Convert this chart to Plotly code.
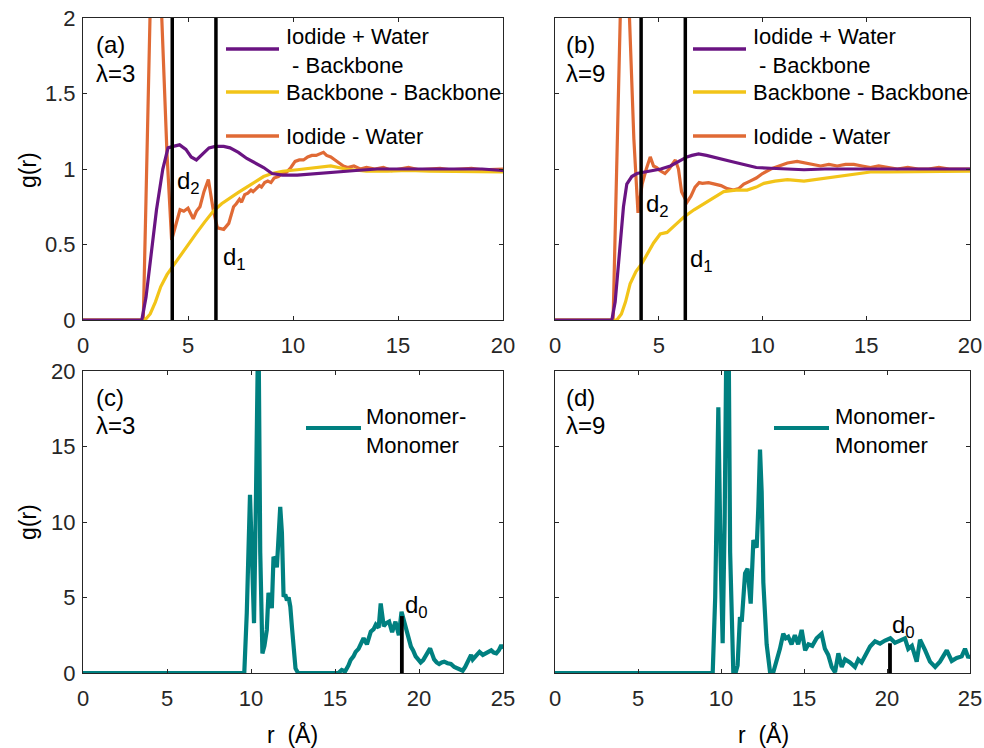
import plotly.graph_objects as go

# ---------------- data ----------------
# Panel (a)  lambda = 3
a_ib_r = [0, 2.8, 3.0, 3.2, 3.5, 3.8, 4.05, 4.3, 4.6, 4.9, 5.15, 5.4, 5.7, 6.0, 6.3, 6.7, 7.0, 7.4, 7.8, 8.2,
          8.6, 9.0, 9.5, 10.2, 11.0, 12.0, 13.0, 14.0, 15.0, 16.0, 17.0, 18.0, 19.0, 20.0]
a_ib_g = [0, 0, 0.15, 0.4, 0.73, 1.0, 1.14, 1.15, 1.16, 1.13, 1.08, 1.06, 1.1, 1.14, 1.15, 1.15, 1.14, 1.11, 1.07, 1.04,
          1.01, 0.97, 0.96, 0.96, 0.97, 0.98, 0.99, 1.0, 1.0, 1.0, 1.0, 1.0, 1.0, 0.99]

a_bb_r = [0, 2.95, 3.2, 3.45, 3.7, 4.0, 4.3, 4.6, 5.0, 5.4, 5.8, 6.2, 6.6, 7.0, 7.4, 7.8, 8.2, 8.6, 9.0, 9.5,
          10.2, 11.0, 11.8, 12.5, 13.5, 14.5, 15.5, 16.5, 17.5, 18.5, 19.5, 20]
a_bb_g = [0, 0, 0.04, 0.12, 0.22, 0.3, 0.36, 0.42, 0.5, 0.575, 0.65, 0.72, 0.77, 0.81, 0.845, 0.88, 0.915, 0.95, 0.97, 0.985,
          0.995, 1.01, 1.02, 1.0, 0.985, 0.985, 0.99, 0.985, 0.985, 0.98, 0.985, 0.98]

a_iw_r = [0, 2.87, 3.0, 3.19, 3.42, 3.75, 4.0, 4.22, 4.4, 4.62, 4.8, 5.0, 5.25, 5.4, 5.57, 5.76, 5.97, 6.2, 6.4,
          6.7, 6.94, 7.17, 7.3, 7.45, 7.55, 7.7, 7.85, 8.0, 8.1, 8.25, 8.4, 8.5, 8.65, 8.8, 8.95, 9.1, 9.3, 9.5,
          9.7, 9.9, 10.1, 10.3, 10.5, 10.7, 10.9, 11.1, 11.3, 11.45, 11.6, 11.8, 12.0, 12.2, 12.4, 12.6, 12.9,
          13.2, 13.5, 13.9, 14.3, 14.7, 15.1, 15.5, 16.0, 16.5, 17.0, 17.5, 18.0, 18.5, 19.0, 19.5, 20]
a_iw_g = [0, 0, 0.8, 2.0, 3.2, 2.0, 1.1, 0.53, 0.62, 0.73, 0.72, 0.74, 0.67, 0.72, 0.75, 0.85, 0.93, 0.73, 0.61,
          0.60, 0.64, 0.75, 0.77, 0.80, 0.78, 0.83, 0.84, 0.86, 0.85, 0.87, 0.89, 0.88, 0.91, 0.92, 0.91, 0.94, 0.95, 0.97,
          0.98, 1.01, 1.05, 1.06, 1.06, 1.08, 1.09, 1.09, 1.10, 1.11, 1.09, 1.08, 1.06, 1.04, 1.02, 1.01, 1.02,
          1.0, 1.01, 1.0, 1.01, 0.99, 1.0, 1.01, 0.995, 1.0, 1.005, 0.995, 1.0, 1.005, 0.995, 1.0, 1.0]

a_d2 = 4.25
a_d1 = 6.33

# Panel (b)  lambda = 9
b_ib_r = [0, 2.74, 2.9, 3.1, 3.3, 3.46, 3.7, 3.95, 4.3, 4.75, 5.1, 5.56, 6.0, 6.36, 6.6, 6.92, 7.3, 7.97, 8.5, 9.1,
          9.7, 10.4, 11.0, 12.0, 13.0, 14.0, 15.0, 16.0, 17.0, 18.0, 19.0, 20]
b_ib_g = [0, 0, 0.12, 0.45, 0.75, 0.9, 0.95, 0.97, 0.98, 0.99, 1.0, 1.02, 1.05, 1.08, 1.09, 1.10, 1.09, 1.07, 1.05, 1.03,
          1.01, 1.005, 1.0, 0.995, 1.0, 1.0, 1.0, 1.0, 1.005, 1.0, 1.0, 1.0]

b_bb_r = [0, 2.98, 3.2, 3.4, 3.62, 3.9, 4.19, 4.45, 4.75, 5.07, 5.4, 5.8, 6.2, 6.7, 7.17, 7.6, 8.13, 8.7, 9.26, 9.7,
          10.07, 10.6, 11.2, 12.0, 12.8, 13.6, 14.4, 15.2, 16.0, 17.0, 18.0, 19.0, 20]
b_bb_g = [0, 0, 0.04, 0.12, 0.24, 0.32, 0.375, 0.44, 0.51, 0.57, 0.58, 0.63, 0.68, 0.73, 0.77, 0.81, 0.85, 0.86, 0.86, 0.88,
          0.905, 0.92, 0.93, 0.92, 0.935, 0.95, 0.965, 0.98, 0.98, 0.98, 0.98, 0.98, 0.985]

b_iw_r = [0, 2.8, 2.92, 3.14, 3.35, 3.59, 3.8, 4.0, 4.2, 4.4, 4.59, 4.75, 4.9, 5.05, 5.3, 5.5, 5.65, 5.8, 5.95, 6.1,
          6.36, 6.55, 6.75, 6.95, 7.1, 7.4, 7.7, 8.0, 8.3, 8.6, 8.85, 9.1, 9.4, 9.7, 10.0, 10.4, 10.8, 11.2, 11.67,
          12.0, 12.3, 12.8, 13.2, 13.6, 14.0, 14.4, 14.8, 15.2, 15.6, 16.0, 16.5, 17.0, 17.5, 18.0, 18.5, 19.0, 19.5, 20]
b_iw_g = [0, 0, 0.7, 2.0, 3.2, 2.0, 1.2, 0.71, 0.9, 1.0, 1.08, 1.02, 1.01, 0.99, 0.97, 1.0, 1.03, 1.06, 1.0, 0.85,
          0.78, 0.82, 0.88, 0.91, 0.905, 0.91, 0.90, 0.89, 0.87, 0.86, 0.87, 0.90, 0.92, 0.94, 0.97, 1.0, 1.02, 1.04, 1.05,
          1.04, 1.03, 1.02, 1.03, 1.02, 1.03, 1.03, 1.02, 1.01, 1.02, 1.01, 1.0, 1.01, 1.0, 1.0, 1.01, 1.0, 1.0, 1.0]

b_d2 = 4.15
b_d1 = 6.28

# Panel (c)  lambda = 3, monomer-monomer
c_mm_r = [0, 9.6, 9.75, 9.94, 10.05, 10.18, 10.3, 10.44, 10.55, 10.68, 10.8, 10.94, 11.04, 11.14, 11.24, 11.34,
          11.44, 11.54, 11.64, 11.74, 11.84, 11.94, 12.04, 12.14, 12.24, 12.34, 12.44, 12.53, 12.65, 12.8, 15.2,
          15.4, 15.6, 15.8, 15.93, 16.1, 16.23, 16.4, 16.53, 16.7, 16.9, 17.0, 17.13, 17.3, 17.43, 17.6, 17.72,
          17.9, 18.05, 18.22, 18.4, 18.6, 18.8, 18.96, 19.1, 19.2, 19.35, 19.52, 19.65, 19.8, 19.95, 20.1, 20.25,
          20.4, 20.55, 20.66, 20.8, 20.9, 21.05, 21.2, 21.35, 21.5, 21.7, 21.9, 22.1, 22.3, 22.45, 22.6, 22.75,
          22.9, 23.0, 23.1, 23.2, 23.35, 23.5, 23.6, 23.8, 24.0, 24.15, 24.3, 24.45, 24.6, 24.75, 24.9, 25]
c_mm_g = [0, 0, 4.0, 11.8, 8.0, 3.3, 12.0, 24.0, 8.0, 1.3, 1.8, 2.85, 5.3, 5.0, 4.3, 7.7,
          7.5, 7.0, 9.0, 11.0, 9.3, 5.05, 5.2, 4.8, 5.0, 4.4, 3.0, 1.5, 0.3, 0, 0,
          0.2, 0.1, 0.5, 0.86, 1.1, 1.4, 1.6, 1.97, 2.3, 1.9, 2.3, 2.74, 2.9, 3.2, 3.0, 4.6,
          3.1, 3.3, 3.4, 2.7, 3.4, 2.5, 4.06, 3.5, 3.1, 2.4, 1.75, 1.5, 1.1, 0.9, 0.7, 0.85,
          1.1, 1.4, 1.63, 1.2, 0.9, 0.7, 0.6, 0.7, 0.75, 0.65, 0.6, 0.4, 0.3, 0.25, 0.15, 0.4,
          0.75, 1.0, 1.2, 0.9, 1.1, 1.3, 1.4, 1.2, 1.3, 1.4, 1.5, 1.35, 1.3, 1.5, 1.85, 1.6]
c_d0 = 18.98
c_d0_top = 3.77

# Panel (d)  lambda = 9, monomer-monomer
d_mm_r = [0, 9.5, 9.65, 9.84, 9.97, 10.1, 10.22, 10.34, 10.45, 10.55, 10.74, 10.9, 11.0, 11.14, 11.25, 11.35,
          11.45, 11.6, 11.7, 11.79, 11.95, 12.05, 12.15, 12.25, 12.35, 12.45, 12.55, 12.75, 12.95, 13.15, 13.35,
          13.55, 13.75, 13.9, 14.05, 14.25, 14.45, 14.65, 14.86, 15.07, 15.27, 15.5, 15.76, 16.06, 16.26, 16.46,
          16.67, 16.87, 17.07, 17.27, 17.47, 17.77, 18.07, 18.27, 18.47, 18.77, 18.98, 19.28, 19.58, 19.88, 20.2,
          20.48, 20.78, 21.08, 21.28, 21.5, 21.79, 21.99, 22.3, 22.59, 22.9, 23.19, 23.6, 23.9, 24.2, 24.5, 24.7,
          24.9, 25]
d_mm_g = [0, 0, 5.0, 17.6, 8.0, 1.97, 10.0, 24.0, 24.0, 8.0, 0.1, 0.1, 0.5, 3.7, 3.4, 5.0,
          6.6, 6.9, 5.5, 4.6, 8.8, 8.5, 8.3, 11.0, 14.8, 12.0, 6.0, 1.9, 0.1, 0.05, 0.75,
          1.6, 2.6, 2.3, 2.4, 1.9, 2.5, 1.9, 2.85, 1.5, 1.9, 1.8, 2.3, 2.6, 1.6, 1.2,
          0.4, 0.05, 1.3, 0.4, 0.9, 0.7, 0.4, 0.9, 0.7, 1.3, 1.75, 2.1, 1.95, 2.15, 2.3,
          2.0, 2.15, 2.3, 1.6, 1.8, 0.75, 2.2, 1.5, 0.75, 0.4, 0.75, 1.5, 0.8, 1.0, 1.1, 1.6,
          1.0, 1.2]
d_d0 = 20.18
d_d0_top = 1.97

top_xticks = [0, 5, 10, 15, 20]
top_yticks = [0, 0.5, 1, 1.5, 2]
top_yticklabels = ["0", "0.5", "1", "1.5", "2"]
bot_xticks = [0, 5, 10, 15, 20, 25]
bot_yticks = [0, 5, 10, 15, 20]

leg_top = ["Iodide + Water<br> - Backbone", "Backbone - Backbone", "Iodide - Water"]
leg_bot = ["Monomer-<br>Monomer"]

# ---------------- style ----------------
W, H = 984, 748
PURPLE = "#6a1482"
YELLOW = "#f2c418"
ORANGE = "#e06a35"
TEAL = "#008080"
AX = "#262626"
FONT = "Arial, Liberation Sans, Helvetica, sans-serif"
FS = 22

def px2x(p):
    return p / W

def py2y(p):
    return 1 - p / H

fig = go.Figure()

def line(xa, ya, xs, ys, color, width):
    fig.add_trace(go.Scatter(x=xs, y=ys, mode="lines", xaxis=xa, yaxis=ya,
                             line=dict(color=color, width=width), showlegend=False,
                             hoverinfo="skip"))

line("x", "y", a_iw_r, a_iw_g, ORANGE, 3.2)
line("x", "y", a_bb_r, a_bb_g, YELLOW, 3.2)
line("x", "y", a_ib_r, a_ib_g, PURPLE, 3.2)
for d in (a_d2, a_d1):
    line("x", "y", [d, d], [0, 2], "black", 3.5)

line("x2", "y2", b_iw_r, b_iw_g, ORANGE, 3.2)
line("x2", "y2", b_bb_r, b_bb_g, YELLOW, 3.2)
line("x2", "y2", b_ib_r, b_ib_g, PURPLE, 3.2)
for d in (b_d2, b_d1):
    line("x2", "y2", [d, d], [0, 2], "black", 3.5)

line("x3", "y3", c_mm_r, c_mm_g, TEAL, 4.2)
line("x3", "y3", [c_d0, c_d0], [0, c_d0_top], "black", 3.8)

line("x4", "y4", d_mm_r, d_mm_g, TEAL, 4.2)
line("x4", "y4", [d_d0, d_d0], [0, d_d0_top], "black", 3.8)

XL = [px2x(83), px2x(503)]
XR = [px2x(555), px2x(970)]
YT = [py2y(320), py2y(18)]
YB = [py2y(673), py2y(371)]

common = dict(showline=True, linecolor=AX, linewidth=1.2, mirror="ticks", ticks="inside",
              ticklen=4, tickwidth=1, tickcolor=AX, showgrid=False, zeroline=False,
              automargin=False, ticklabeloverflow="allow",
              tickfont=dict(family=FONT, size=FS, color=AX))

fig.update_layout(
    width=W, height=H, margin=dict(l=0, r=0, t=0, b=0, pad=0, autoexpand=False),
    paper_bgcolor="white", plot_bgcolor="white",
    xaxis=dict(domain=XL, range=[0, 20], tickvals=top_xticks, anchor="y", ticklabelstandoff=5, **common),
    yaxis=dict(domain=YT, range=[0, 2], tickvals=top_yticks, ticktext=top_yticklabels, anchor="x",
               ticklabelstandoff=2, **common),
    xaxis2=dict(domain=XR, range=[0, 20], tickvals=top_xticks, anchor="y2", ticklabelstandoff=5, **common),
    yaxis2=dict(domain=YT, range=[0, 2], tickvals=top_yticks, showticklabels=False, anchor="x2", **common),
    xaxis3=dict(domain=XL, range=[0, 25], tickvals=bot_xticks, anchor="y3", ticklabelstandoff=5, **common),
    yaxis3=dict(domain=YB, range=[0, 20], tickvals=bot_yticks, anchor="x3", ticklabelstandoff=2, **common),
    xaxis4=dict(domain=XR, range=[0, 25], tickvals=bot_xticks, anchor="y4", ticklabelstandoff=5, **common),
    yaxis4=dict(domain=YB, range=[0, 20], tickvals=bot_yticks, showticklabels=False, anchor="x4", **common),
)

ann = []
shapes = []

def text(px, py, s, xanchor="left", yanchor="middle", size=FS, angle=0):
    ann.append(dict(x=px2x(px), y=py2y(py), xref="paper", yref="paper", text=s, showarrow=False,
                    xanchor=xanchor, yanchor=yanchor, align="left", textangle=angle,
                    font=dict(family=FONT, size=size, color="black")))

def seg(x0, x1, py, color, width):
    shapes.append(dict(type="line", xref="paper", yref="paper", x0=px2x(x0), x1=px2x(x1),
                       y0=py2y(py), y1=py2y(py), line=dict(color=color, width=width)))

# panel labels
for lx, lab, lam in ((94, "(a)", "λ=3"), (564, "(b)", "λ=9")):
    text(lx, 44, lab, size=24)
    text(lx, 73, lam, size=24)
for lx, lab, lam in ((94, "(c)", "λ=3"), (564, "(d)", "λ=9")):
    text(lx, 397, lab, size=24)
    text(lx, 425, lam, size=24)

# top legends
for ox in (0, 555 - 83 - 5):
    seg(226 + ox, 279 + ox, 49, PURPLE, 3.5)
    seg(226 + ox, 279 + ox, 92, YELLOW, 3.5)
    seg(226 + ox, 279 + ox, 136, ORANGE, 3.5)
    text(284 + ox, 51, leg_top[0])
    text(284 + ox, 92, leg_top[1])
    text(284 + ox, 136, leg_top[2])

# bottom legends
seg(306, 361, 428, TEAL, 4)
text(364, 431, leg_bot[0])
seg(774, 829, 428, TEAL, 4)
text(833, 431, leg_bot[0])

# d labels
text(175, 183, "d<sub>2</sub>", size=24)
text(221, 258, "d<sub>1</sub>", size=24)
text(644, 205, "d<sub>2</sub>", size=24)
text(688, 260, "d<sub>1</sub>", size=24)
text(403, 606, "d<sub>0</sub>", size=24)
text(890, 626, "d<sub>0</sub>", size=24)

# axis titles
text(28, 170, "g(r)", xanchor="center", angle=-90, size=23)
text(28, 522, "g(r)", xanchor="center", angle=-90, size=23)
text(292, 734, "r  (Å)", xanchor="center", size=23)
text(763, 734, "r  (Å)", xanchor="center", size=23)

fig.update_layout(annotations=ann, shapes=shapes)
fig.write_html("out.html", config={"displayModeBar": False},
               post_script="document.body.style.margin='0';document.body.style.overflow='hidden';")
